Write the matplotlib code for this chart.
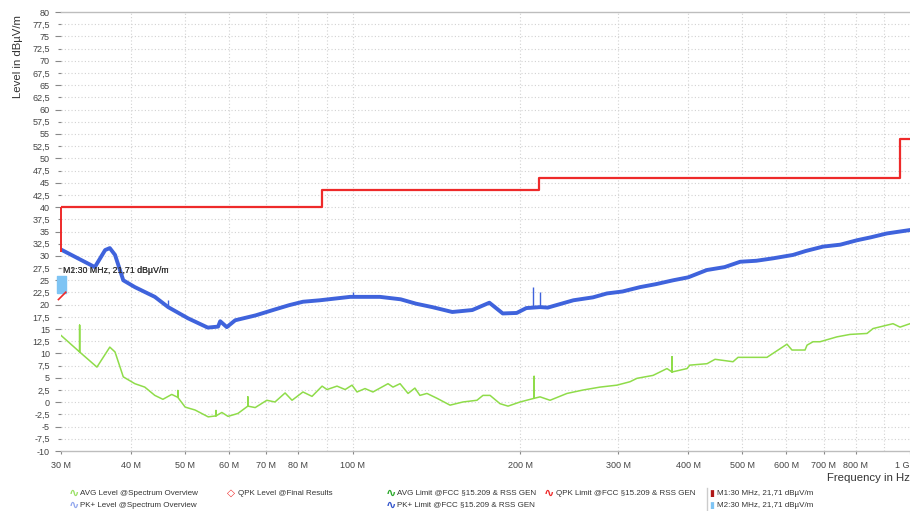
import numpy as np
import matplotlib
matplotlib.use('Agg')
import matplotlib.pyplot as plt
from matplotlib.path import Path

plt.rcParams['font.family'] = ['Liberation Sans', 'DejaVu Sans']

# PK+ level (MHz, dBuV/m)
pk_freq = [30, 31.8, 34.5, 36.0, 36.7, 37.5, 38.8, 40.7, 44.2, 46.7, 50.7, 55, 57.4,
           57.9, 59.5, 61.6, 67, 72, 77, 81.5, 87.4, 99, 112, 122, 130, 139, 151,
           164, 176, 186, 197, 205, 217, 224, 249, 270, 286, 305, 328, 350, 376, 400,
           432, 465, 496, 530, 568, 617, 650, 698, 750, 803, 850, 909, 1000]
pk_level = [31.3, 29.8, 27.7, 31.2, 31.6, 30.2, 25.0, 23.6, 21.6, 19.5, 17.2, 15.3, 15.5,
            16.6, 15.4, 16.8, 17.8, 18.9, 19.9, 20.6, 20.9, 21.6, 21.6, 21.1, 20.2, 19.5, 18.5,
            18.9, 20.4, 18.2, 18.3, 19.3, 19.5, 19.4, 20.9, 21.5, 22.3, 22.7, 23.6, 24.2, 25.0, 25.6,
            27.1, 27.7, 28.8, 29.0, 29.5, 30.2, 31.0, 31.9, 32.3, 33.2, 33.8, 34.6, 35.3]
# narrow spikes on the PK+ trace: freq, top level
pk_spike_freq = [46.7, 100, 210.8, 217]
pk_spike_top = [20.9, 22.6, 23.6, 22.6]

# AVG level (MHz, dBuV/m)
avg_freq = [30, 32.4, 32.4, 32.4, 34.8, 36.7, 37.5, 38.8, 40.7, 42.4, 44.2, 45.7, 47.4,
            48.6, 48.6, 48.6, 50.1, 52.2, 55.1, 56.9, 56.9, 56.9, 58.3, 59.8, 62.3, 64.9,
            64.9, 64.9, 66.9, 70.2, 72.6, 75.7, 77.9, 81.5, 84.6, 88.2, 90.0, 93.8, 97.0,
            99.8, 101.9, 105.3, 108.8, 115.8, 118.2, 121.7, 125.8, 129.4, 132.1, 136.0,
            141.8, 149.6, 157.8, 167.2, 171.4, 176.5, 183.9, 190.1, 199.8, 211.7, 211.7,
            211.7, 217.0, 226.1, 242.5, 259.1, 277.9, 298.1, 314.6, 323.8, 346.0, 366.5,
            374.2, 374.2, 374.2, 398.2, 402.6, 432.5, 447, 481.4, 491.5, 553.9, 601.6,
            614.2, 648.2, 653.6, 670, 689.7, 739.5, 780.5, 837.4, 858.3, 932.3, 959.7, 1000]
avg_level = [13.7, 10.3, 15.8, 10.3, 7.2, 11.3, 10.3, 5.2, 3.8, 3.1, 1.4, 0.6, 1.6,
             1.0, 2.4, 1.0, -1.0, -1.6, -3.0, -2.8, -1.7, -2.8, -2.1, -2.9, -2.3, -0.8,
             1.1, -0.8, -1.1, 0.4, 0.05, 1.9, 0.4, 2.1, 1.2, 3.3, 2.6, 3.3, 2.6,
             3.5, 2.1, 2.8, 2.1, 3.8, 3.1, 3.8, 1.8, 2.9, 1.4, 1.8,
             0.8, -0.6, 0.05, 0.4, 1.4, 1.4, -0.3, -0.8, 0.05, 0.8, 5.3,
             0.8, 1.1, 0.4, 1.8, 2.5, 3.1, 3.5, 4.2, 4.9, 5.5, 6.9,
             6.2, 9.3, 6.2, 6.9, 7.6, 7.9, 8.8, 8.3, 9.2, 9.2, 11.9,
             10.7, 10.7, 11.7, 12.4, 12.4, 13.4, 13.9, 14.1, 15.1, 16.1, 15.4, 16.1]

# QPK limit FCC 15.209 (MHz edges, dBuV/m)
lim_edges = [30, 88, 216, 960, 1000]
lim_level = [40, 43.5, 46, 54]

marker_freq = 30
marker_level = 21.71
marker_text = ['M1:30 MHz, 21,71 dB\u00b5V/m', 'M2:30 MHz, 21,71 dB\u00b5V/m']

xtick_vals = [30, 40, 50, 60, 70, 80, 100, 200, 300, 400, 500, 600, 700, 800, 1000]
xtick_text = ['30 M', '40 M', '50 M', '60 M', '70 M', '80 M', '100 M', '200 M', '300 M',
              '400 M', '500 M', '600 M', '700 M', '800 M', '1 G']
xgrid_vals = [40, 50, 60, 70, 80, 90, 100, 200, 300, 400, 500, 600, 700, 800, 900]

BLUE = '#3f63dc'
GREEN = '#8fdc4a'
RED = '#ee2a2a'
TXT = '#333333'
GRID = '#d2d2d2'

fig = plt.figure(figsize=(9.10, 5.11), dpi=100)
ax = fig.add_axes([61/910, 60/511, 849/910, 439/511])
ax.set_xscale('log')
ax.set_xlim(30, 1000)
ax.set_ylim(-10, 80)

# grid
for v in np.arange(-7.5, 80, 2.5):
    ax.axhline(v, color=GRID, lw=0.8, ls=(0, (1, 2)), zorder=0)
for v in xgrid_vals:
    ax.axvline(v, color=GRID, lw=0.8, ls=(0, (1, 2)), zorder=0)

# limit line
lx = [lim_edges[0]]
ly = [lim_level[0]]
for i, lv in enumerate(lim_level):
    lx += [lim_edges[i], lim_edges[i + 1]]
    ly += [lv, lv]
ax.plot(lx, ly, color=RED, lw=1.6, zorder=4)

# traces
ax.plot(avg_freq, avg_level, color=GREEN, lw=1.1, zorder=3)
ax.plot(pk_freq, pk_level, color=BLUE, lw=2.8, solid_joinstyle='round', zorder=3)
ax.vlines(pk_spike_freq, np.interp(pk_spike_freq, pk_freq, pk_level), pk_spike_top,
          color=BLUE, lw=1.0, zorder=3)

# markers
ax.vlines([marker_freq], marker_level + 9, 40, color=RED, lw=1.4, zorder=5, clip_on=False)
rect = Path([(-4.5, 3), (4.5, 3), (4.5, 20), (-4.5, 20), (-4.5, 3)])
ax.plot([marker_freq], [marker_level], marker=rect, ms=28.8, mfc='#7ec4f4', mec='#7ec4f4',
        ls='none', zorder=6, clip_on=False)
flag = Path([(-3, -3), (4, 4)], [Path.MOVETO, Path.LINETO])
ax.plot([marker_freq], [marker_level], marker=flag, ms=7, mec=RED, mew=1.2,
        ls='none', zorder=6, clip_on=False)
for t in marker_text:
    ax.text(30.2, 27.0, t, fontsize=6.3, color=TXT, va='center', ha='left', zorder=7)

# axes styling
for s in ['left', 'right']:
    ax.spines[s].set_visible(False)
for s in ['top', 'bottom']:
    ax.spines[s].set_color('#bdbdbd')
    ax.spines[s].set_linewidth(1.0)

def fmt(v):
    return ('%g' % v).replace('.', ',')

major = np.arange(-10, 80.1, 5)
minor = np.arange(-7.5, 80, 5)
ax.set_yticks(major, [fmt(v) for v in major])
ax.set_yticks(minor, [fmt(v) for v in minor], minor=True)
ax.tick_params(axis='y', which='major', length=4.5, width=0.8, color='#888888',
               labelsize=6.5, labelcolor='#444444', pad=3.5)
ax.tick_params(axis='y', which='minor', length=2.2, width=0.8, color='#888888',
               labelsize=6.5, labelcolor='#444444', pad=5.8)
ax.xaxis.set_minor_locator(matplotlib.ticker.NullLocator())
ax.set_xticks(xtick_vals, xtick_text)
ax.tick_params(axis='x', which='major', length=2.5, width=0.8, color='#888888',
               labelsize=6.5, labelcolor='#444444', pad=5)
ax.get_xticklabels()[-1].set_horizontalalignment('right')

fig.text(18/910, 1 - 57/511, 'Level in dB\u00b5V/m', rotation=90, fontsize=8.2,
         color=TXT, ha='center', va='center')
fig.text(1.0, 1 - 478/511, 'Frequency in Hz', fontsize=8.2, color=TXT, ha='right', va='center')

# legend
row1 = 1 - 493/511
row2 = 1 - 505/511
wave = '\u223f'
def leg(xi, xt, y, icon, col, label, fs=9, **kw):
    fig.text(xi/910, y, icon, color=col, fontsize=fs, ha='center', va='center',
             family=['DejaVu Sans'], **kw)
    fig.text(xt/910, y, label, color=TXT, fontsize=5.8, ha='left', va='center')

leg(74, 80, row1, wave, '#9be066', 'AVG Level @Spectrum Overview', fontweight='bold')
leg(74, 80, row2, wave, '#93a8ee', 'PK+ Level @Spectrum Overview', fontweight='bold')
leg(231, 238, row1, '\u25c7', RED, 'QPK Level @Final Results', fs=7.5)
leg(391, 397, row1, wave, '#2aa82a', 'AVG Limit @FCC \u00a715.209 & RSS GEN', fontweight='bold')
leg(391, 397, row2, wave, '#3355cc', 'PK+ Limit @FCC \u00a715.209 & RSS GEN', fontweight='bold')
leg(549, 556, row1, wave, RED, 'QPK Limit @FCC \u00a715.209 & RSS GEN', fontweight='bold')
fig.lines.append(plt.Line2D([707/910, 707/910], [row2 - 0.010, row1 + 0.010],
                            transform=fig.transFigure, color='#cccccc', lw=1))
leg(712, 717, row1, '\u25ae', '#b01818', marker_text[0], fs=6.5)
leg(712, 717, row2, '\u25ae', '#7ec4f4', marker_text[1], fs=6.5)

fig.savefig('out.png', dpi=100)
